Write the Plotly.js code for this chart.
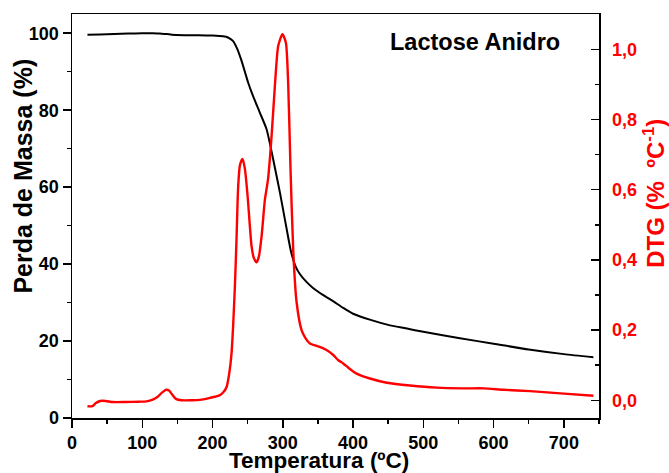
<!DOCTYPE html>
<html>
<head>
<meta charset="utf-8">
<script src="https://cdn.plot.ly/plotly-3.0.1.min.js"></script>
<style>
  html, body { margin: 0; padding: 0; background: #ffffff; }
  #chart { width: 669px; height: 473px; }
</style>
</head>
<body>
<div id="chart"></div>
<script>
// Thermogravimetric curve (TG): mass remaining vs temperature
const tgTemp = [22, 40, 60, 80, 100, 115, 126, 135, 142, 160, 180, 200, 215, 222, 229, 235, 241, 246, 251, 258, 267, 277, 286, 296, 305, 312, 318, 324, 333, 343, 357, 372, 386, 400, 425, 450, 475, 500, 550, 600, 650, 700, 742];
const tgMass = [99.6, 99.7, 99.8, 99.9, 100.0, 100.0, 99.9, 99.8, 99.6, 99.5, 99.5, 99.4, 99.2, 98.9, 98.0, 96.0, 93.0, 90.0, 87.0, 83.5, 79.5, 75.0, 67.5, 58.5, 49.6, 43.0, 39.5, 37.5, 35.5, 33.8, 32.0, 30.3, 28.6, 27.1, 25.5, 24.2, 23.3, 22.4, 20.8, 19.3, 17.8, 16.6, 15.8];

// Derivative curve (DTG) on the secondary axis
const dtgTemp = [22, 29, 34, 40, 48, 58, 75, 95, 106, 115, 122, 128, 134, 138, 142, 148, 156, 170, 182, 195, 203, 210, 215, 220, 224, 227, 229.5, 231.8, 234, 236.5, 239, 242.7, 246, 250, 253, 255.5, 258.8, 262.7, 266, 269.8, 274.5, 279, 284, 288.7, 293.5, 299.5, 304.4, 307.7, 311, 315, 319.6, 326.7, 332, 338.6, 348, 357.6, 365, 371.8, 379, 386, 395, 405, 424, 448, 481, 519, 557, 586, 614, 652, 700, 742];
const dtgValue = [-0.017, -0.017, -0.008, -0.002, -0.002, -0.005, -0.005, -0.004, -0.003, 0.002, 0.010, 0.022, 0.030, 0.028, 0.018, 0.004, 0.000, 0.000, 0.001, 0.006, 0.010, 0.014, 0.022, 0.038, 0.080, 0.133, 0.220, 0.324, 0.450, 0.610, 0.670, 0.688, 0.660, 0.580, 0.500, 0.440, 0.405, 0.393, 0.410, 0.467, 0.571, 0.630, 0.752, 0.895, 1.010, 1.043, 1.019, 0.900, 0.657, 0.420, 0.280, 0.200, 0.178, 0.162, 0.155, 0.148, 0.140, 0.129, 0.114, 0.105, 0.090, 0.076, 0.062, 0.050, 0.042, 0.036, 0.034, 0.034, 0.030, 0.026, 0.019, 0.013];

const xTicks = [0, 100, 200, 300, 400, 500, 600, 700];
const sampleName = 'Lactose Anidro';

const FONT = 'Arial, "Liberation Sans", sans-serif';
const RED = '#ff0000';

const traces = [
  {
    x: tgTemp, y: tgMass, type: 'scatter', mode: 'lines',
    line: { color: '#000000', width: 2, shape: 'spline', smoothing: 0.6 },
    yaxis: 'y', hoverinfo: 'skip'
  },
  {
    x: dtgTemp, y: dtgValue, type: 'scatter', mode: 'lines',
    line: { color: RED, width: 2.4, shape: 'spline', smoothing: 0.6 },
    yaxis: 'y2', hoverinfo: 'skip'
  }
];

const tickFont = { family: FONT, size: 18, color: '#000000', weight: 'bold' };

const layout = {
  width: 669, height: 473,
  margin: { l: 72, r: 70, t: 14, b: 55, pad: 0 },
  paper_bgcolor: '#ffffff', plot_bgcolor: '#ffffff',
  showlegend: false,
  separators: ',.',
  font: { family: FONT, color: '#000000' },
  xaxis: {
    range: [0, 750], tickmode: 'array', tickvals: xTicks,
    ticks: 'outside', ticklen: 8, tickwidth: 1.5, tickcolor: '#000000',
    showline: true, linewidth: 1.5, linecolor: '#000000', mirror: true,
    showgrid: false, zeroline: false, tickfont: tickFont,
    minor: { ticks: 'outside', ticklen: 4, tickwidth: 1.5, dtick: 50, tick0: 0, tickcolor: '#000000', showgrid: false }
  },
  yaxis: {
    range: [0, 105], dtick: 20, tick0: 0,
    ticks: 'outside', ticklen: 8, tickwidth: 1.5, tickcolor: '#000000',
    showline: true, linewidth: 1.5, linecolor: '#000000',
    showgrid: false, zeroline: false, tickfont: tickFont,
    minor: { ticks: 'outside', ticklen: 4, tickwidth: 1.5, dtick: 10, tick0: 0, tickcolor: '#000000', showgrid: false }
  },
  yaxis2: {
    overlaying: 'y', side: 'right',
    range: [-0.0505, 1.1007], dtick: 0.2, tick0: 0, tickformat: '.1f',
    ticks: 'inside', ticklen: 8, tickwidth: 1.5, tickcolor: '#000000',
    showline: true, linewidth: 1.5, linecolor: '#000000',
    showgrid: false, zeroline: false, ticklabelstandoff: 8,
    tickfont: { family: FONT, size: 18, color: RED, weight: 'bold' },
    minor: { ticks: 'inside', ticklen: 4, tickwidth: 1.5, dtick: 0.1, tick0: 0, tickcolor: '#000000', showgrid: false }
  },
  annotations: [
    {
      text: sampleName, xref: 'paper', yref: 'paper', x: 0.5996, y: 0.93,
      xanchor: 'left', yanchor: 'middle', showarrow: false,
      font: { family: FONT, size: 23.5, color: '#000000', weight: 'bold' }
    },
    {
      text: 'Temperatura (ºC)', xref: 'paper', yref: 'paper', x: 0.4687, y: -0.106,
      xanchor: 'center', yanchor: 'middle', showarrow: false,
      font: { family: FONT, size: 22.5, color: '#000000', weight: 'bold' }
    },
    {
      text: 'Perda de Massa (%)', xref: 'paper', yref: 'paper', x: -0.093, y: 0.60,
      xanchor: 'center', yanchor: 'middle', showarrow: false, textangle: -90,
      font: { family: FONT, size: 25, color: '#000000', weight: 'bold' }
    },
    {
      text: 'DTG (%  ºC<sup>-1</sup>)', xref: 'paper', yref: 'paper', x: 1.104, y: 0.557,
      xanchor: 'center', yanchor: 'middle', showarrow: false, textangle: -90,
      font: { family: FONT, size: 24, color: RED, weight: 'bold' }
    }
  ]
};

Plotly.newPlot('chart', traces, layout, { displayModeBar: false, staticPlot: true });
</script>
</body>
</html>
